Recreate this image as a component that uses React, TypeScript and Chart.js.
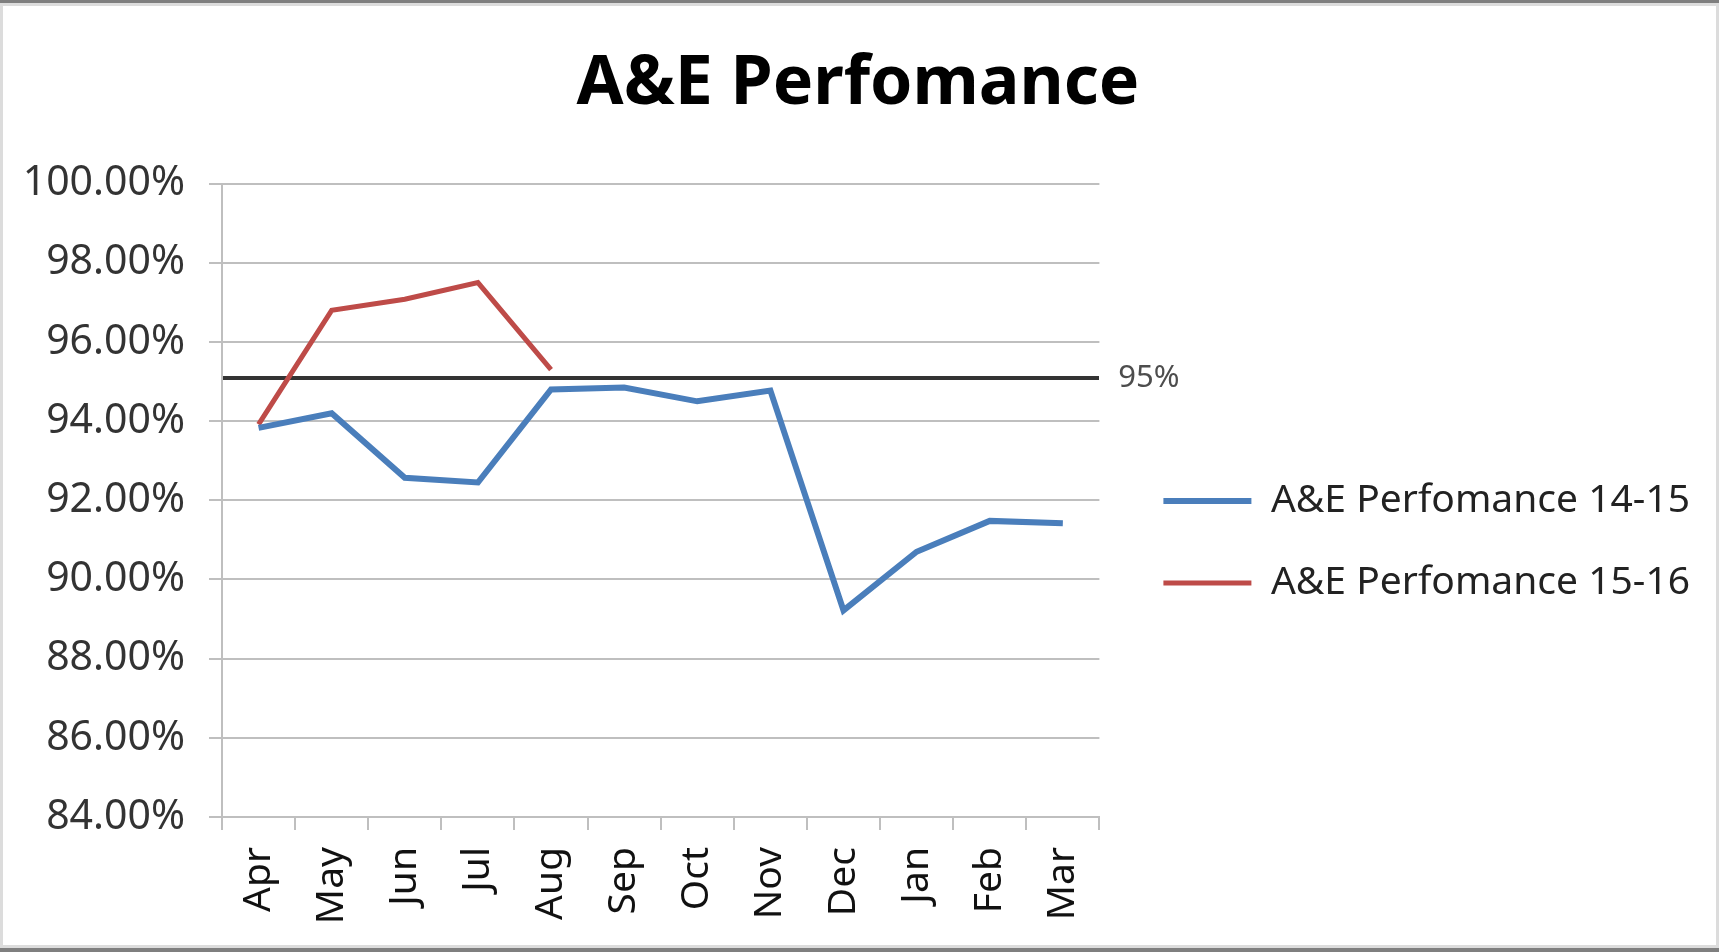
import React, { useEffect, useRef } from "react";
import { Chart, registerables } from "chart.js";

Chart.register(...registerables);

const months = ["Apr", "May", "Jun", "Jul", "Aug", "Sep", "Oct", "Nov", "Dec", "Jan", "Feb", "Mar"];
const perf1415 = [93.83, 94.2, 92.57, 92.45, 94.8, 94.85, 94.5, 94.77, 89.22, 90.7, 91.48, 91.42];
const perf1516 = [93.92, 96.8, 97.08, 97.5, 95.3, null, null, null, null, null, null, null];
const targetValue = [95.08];
const targetLabel = "95%";
const yTicks = [84, 86, 88, 90, 92, 94, 96, 98, 100];

const W = 1719;
const H = 952;
const FONT = "'Noto Sans', 'DejaVu Sans', sans-serif";

const framePlugin = {
  id: "frame",
  beforeDraw(chart: any) {
    const ctx = chart.ctx;
    ctx.save();
    ctx.fillStyle = "#ffffff";
    ctx.fillRect(0, 0, chart.width, chart.height);
    ctx.restore();
  },
  afterDraw(chart: any) {
    const ctx = chart.ctx;
    const w = chart.width;
    const h = chart.height;
    ctx.save();
    ctx.fillStyle = "#dcdcdc";
    ctx.fillRect(0, 0, 3, h);
    ctx.fillRect(w - 3, 0, 3, h);
    ctx.fillRect(0, 3, w, 3);
    ctx.fillRect(0, h - 7, w, 3);
    ctx.fillStyle = "#7f7f7f";
    ctx.fillRect(0, 0, w, 3);
    ctx.fillRect(0, h - 4, w, 4);
    ctx.restore();
  },
};

export default function App() {
  const ref = useRef<HTMLCanvasElement | null>(null);

  useEffect(() => {
    document.body.style.margin = "0";
    if (!ref.current) return;
    const chart = new Chart(ref.current, {
      type: "line",
      data: {
        labels: months,
        datasets: [
          {
            label: "A&E Perfomance 14-15",
            data: perf1415,
            borderColor: "#4a7ebb",
            backgroundColor: "#4a7ebb",
            borderWidth: 6,
            pointRadius: 0,
            tension: 0,
            yAxisID: "y",
          },
          {
            label: "A&E Perfomance 15-16",
            data: perf1516,
            borderColor: "#be4b48",
            backgroundColor: "#be4b48",
            borderWidth: 5,
            pointRadius: 0,
            tension: 0,
            spanGaps: false,
            yAxisID: "y",
          },
        ],
      },
      options: {
        responsive: false,
        animation: false,
        events: [],
        layout: { padding: { left: 16, right: 19, top: 0, bottom: 0 } },
        plugins: {
          tooltip: { enabled: false },
          title: {
            display: true,
            text: "A&E Perfomance",
            color: "#000000",
            font: { family: FONT, size: 68, weight: "bold", lineHeight: 1.2 },
            padding: { top: 44, bottom: 58 },
          },
          legend: {
            display: true,
            position: "right",
            align: "center",
            maxWidth: 640,
            title: {
              display: true,
              text: "",
              font: { size: 12, lineHeight: 1 },
              padding: { top: 60, bottom: 60 },
            },
            labels: {
              usePointStyle: true,
              pointStyle: "line",
              pointStyleWidth: 88,
              padding: 43,
              color: "#222222",
              font: { family: FONT, size: 39 },
            },
          },
        },
        scales: {
          x: {
            type: "category",
            offset: true,
            grid: {
              display: true,
              offset: true,
              drawOnChartArea: false,
              drawTicks: true,
              tickLength: 13,
              color: "#bfbfbf",
              lineWidth: 2,
            },
            border: { display: true, color: "#bfbfbf", width: 2 },
            ticks: {
              autoSkip: false,
              minRotation: 90,
              maxRotation: 90,
              padding: 17,
              color: "#111111",
              font: { family: FONT, size: 39 },
            },
            afterFit: (scale: any) => {
              scale.height = 135;
            },
          },
          y: {
            position: "left",
            min: 84,
            max: 100,
            afterBuildTicks: (scale: any) => {
              scale.ticks = yTicks.map((v) => ({ value: v }));
            },
            grid: {
              color: "#bfbfbf",
              lineWidth: 2,
              drawTicks: true,
              tickLength: 13,
            },
            border: { display: true, color: "#bfbfbf", width: 2 },
            ticks: {
              padding: 24,
              color: "#333333",
              font: { family: FONT, size: 41 },
              callback: (v: any) => Number(v).toFixed(2) + "%",
            },
            afterFit: (scale: any) => {
              scale.width = 206;
            },
          },
          y2: {
            position: "right",
            min: 84,
            max: 100,
            z: 1,
            afterBuildTicks: (scale: any) => {
              scale.ticks = targetValue.map((v) => ({ value: v }));
            },
            grid: {
              color: "#333333",
              lineWidth: 4,
              drawTicks: false,
              drawOnChartArea: true,
            },
            border: { display: false },
            ticks: {
              mirror: true,
              crossAlign: "near",
              padding: 80,
              color: "#4d4d4d",
              font: { family: FONT, size: 31 },
              callback: () => targetLabel,
            },
            afterFit: (scale: any) => {
              scale.width = 21;
            },
          },
        },
      },
      plugins: [framePlugin],
    });
    return () => chart.destroy();
  }, []);

  return (
    <div style={{ width: W, height: H }}>
      <canvas ref={ref} width={W} height={H} style={{ display: "block", width: W, height: H }} />
    </div>
  );
}
